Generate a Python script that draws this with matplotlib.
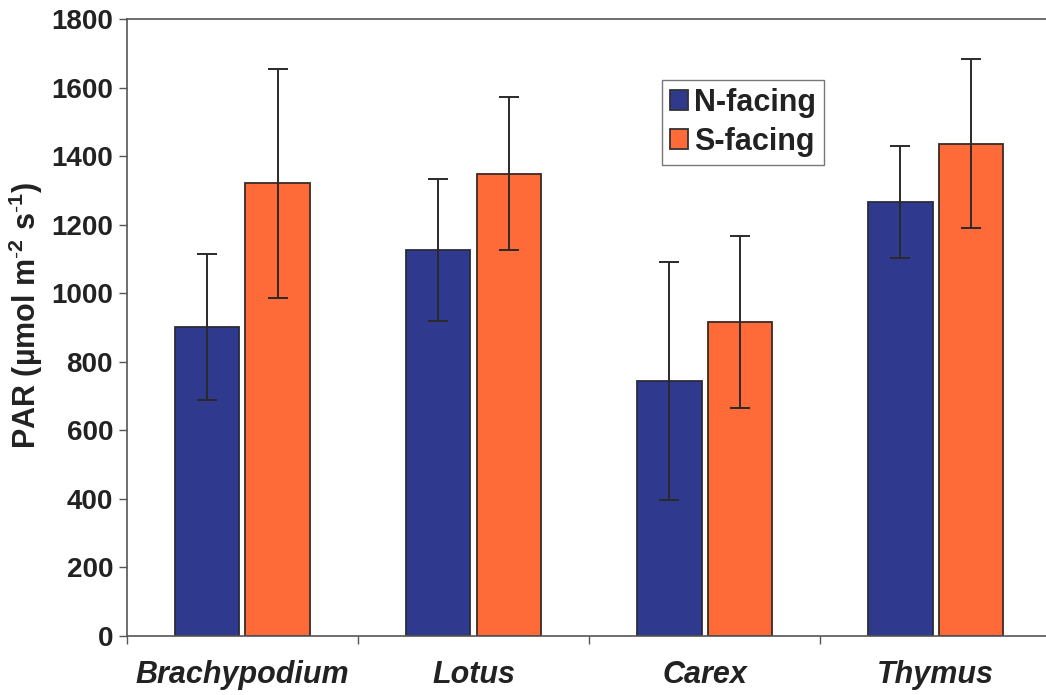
import matplotlib
matplotlib.use("Agg")
import matplotlib.pyplot as plt
import numpy as np

species = ["Brachypodium", "Lotus", "Carex", "Thymus"]
n_facing = [900, 1126, 744, 1266]
n_err = [213, 208, 347, 162]
s_facing = [1321, 1348, 916, 1436]
s_err = [334, 223, 252, 246]
yticks = [0, 200, 400, 600, 800, 1000, 1200, 1400, 1600, 1800]

plt.rcParams['font.family'] = ['Liberation Sans', 'DejaVu Sans']
plt.rcParams['mathtext.fontset'] = 'custom'
plt.rcParams['mathtext.rm'] = 'Liberation Sans'
plt.rcParams['mathtext.bf'] = 'Liberation Sans:bold'

fig = plt.figure(figsize=(10.46, 6.95), dpi=100)
ax = fig.add_axes([0.1214, 0.0849, 0.8834, 0.8878])

x = np.arange(len(species))
w = 0.28
off = 0.153
blue = "#2F3A8E"
orange = "#FF6B38"
ekw = dict(ecolor="#2a2a2a", elinewidth=1.4, capsize=7, capthick=1.4)
ax.bar(x - off, n_facing, w, color=blue, edgecolor="#2b2b3a", linewidth=1.3,
       yerr=n_err, error_kw=ekw, label="N-facing", zorder=2)
ax.bar(x + off, s_facing, w, color=orange, edgecolor="#3a2a22", linewidth=1.3,
       yerr=s_err, error_kw=ekw, label="S-facing", zorder=2)

ax.set_xlim(-0.5, 3.5)
ax.set_ylim(0, 1800)
ax.set_yticks(yticks)
ax.set_yticklabels([str(t) for t in yticks], fontsize=20, fontweight="bold", color="#222222")
ax.set_xticks(x)
ax.set_xticklabels(species, fontsize=22, fontweight="bold", style="italic", color="#222222")
ax.tick_params(axis="x", which="major", length=0, pad=17)
ax.set_xticks(np.arange(-0.5, 3.6, 1), minor=True)
ax.tick_params(axis="x", which="minor", length=6, color="#555555", width=1)
ax.tick_params(axis="y", length=6, color="#555555", width=1, pad=4)

for side in ["left", "bottom", "top"]:
    ax.spines[side].set_color("#555555")
    ax.spines[side].set_linewidth(1.2)
ax.spines["right"].set_visible(False)

ax.set_ylabel("PAR (µmol m$^{\\mathbf{\\text{-}2}}$ s$^{\\mathbf{\\text{-}1}}$)", fontsize=22,
              fontweight="bold", color="#222222")
ax.yaxis.set_label_coords(-0.089, 0.52)

leg = ax.legend(loc="upper left", bbox_to_anchor=(0.579, 0.901), prop=dict(size=22, weight="bold"),
                frameon=True, fancybox=False, edgecolor="#555555", handlelength=0.6,
                handleheight=0.6, handletextpad=0.2, borderpad=0.25, labelspacing=0.3,
                borderaxespad=0)
leg.get_frame().set_linewidth(1.0)
for t in leg.get_texts():
    t.set_color("#222222")
for h in leg.legend_handles:
    h.set_edgecolor("#333333")

fig.savefig("out.png", dpi=100)
